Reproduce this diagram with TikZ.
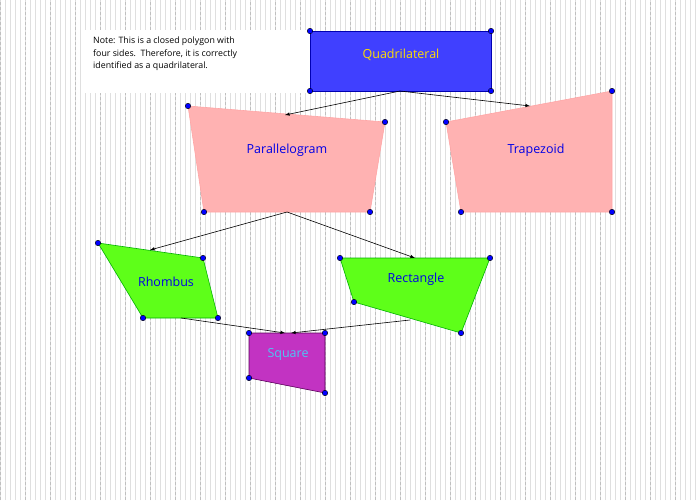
\documentclass[tikz,border=0pt]{standalone}
\usepackage{fontspec}
\setmainfont{Open Sans}
\begin{document}
\begin{tikzpicture}[x=1pt,y=-1pt,
  poly/.style={line width=0.6pt},
  pt/.style={circle,fill=blue,draw=black,line width=0.4pt,inner sep=0pt,minimum size=5.5pt},
  lbl/.style={font=\fontsize{12.5}{14}\selectfont},
  arr/.style={-latex,line width=0.6pt}]
\useasboundingbox (0,0) rectangle (700,500);
\fill[white] (0,0) rectangle (700,500);
\draw[gray!25,line width=0.3pt] (0,0) grid[step=5] (700,500);
\draw[gray!50,line width=0.4pt,dash pattern=on 3pt off 2pt] (0,0) grid[step=25] (700,500);
\fill[white] (82,30) rectangle (306,93);
\node[anchor=north west,align=left,inner sep=0pt,font=\fontsize{8.8}{12.5}\selectfont] (note) at (93,37) {Note: This is a closed polygon with\\four sides.\ \ Therefore, it is correctly\\identified as a quadrilateral.};
% polygons
\filldraw[poly,fill=blue!75,draw=blue!70!black] (310,31)--(491,31)--(491,91)--(310,91)--cycle;
\filldraw[poly,fill=red!30,draw=red!35] (188,106)--(385,122)--(370,212)--(204,212)--cycle;
\filldraw[poly,fill=red!30,draw=red!35] (446,122)--(612,91)--(612,212)--(461,212)--cycle;
\filldraw[poly,fill=green!60!lime!90,draw=green!70!black] (98,243)--(203,258)--(218,318)--(143,318)--cycle;
\filldraw[poly,fill=green!60!lime!90,draw=green!70!black] (340,258)--(490,258)--(461,333)--(354,302)--cycle;
\filldraw[poly,fill=violet!60!magenta!80,draw=violet!70!black] (249,333)--(325,333)--(325,393)--(249,378)--cycle;
% labels
\node[lbl,text=yellow!80!orange] (q) at (401,55) {Quadrilateral};
\node[lbl,text=blue!90!black] (p) at (287,150) {Parallelogram};
\node[lbl,text=blue!90!black] (t) at (536,150) {Trapezoid};
\node[lbl,text=blue!90!black] (rh) at (166,282) {Rhombus};
\node[lbl,text=blue!90!black] (re) at (416,279) {Rectangle};
\node[lbl,text=cyan!70!white] (s) at (288,354) {Square};
% connector ends
\coordinate (qb) at (400,91);
\coordinate (pt1) at (285,115);
\coordinate (tt) at (530,106);
\coordinate (pb) at (287,212);
\coordinate (rht) at (150,250);
\coordinate (ret) at (415,258);
\coordinate (rhb) at (181,318);
\coordinate (reb) at (410,320);
\coordinate (s1) at (285,333);
\coordinate (s2) at (291,333);
\draw[arr] (qb)--(pt1);
\draw[arr] (qb)--(tt);
\draw[arr] (pb)--(rht);
\draw[arr] (pb)--(ret);
\draw[arr] (rhb)--(s1);
\draw[arr] (reb)--(s2);
% vertices
\foreach \p in {(310,31),(491,31),(491,91),(310,91),
 (188,106),(385,122),(370,212),(204,212),
 (446,122),(612,91),(612,212),(461,212),
 (98,243),(203,258),(218,318),(143,318),
 (340,258),(490,258),(461,333),(354,302),
 (249,333),(325,333),(325,393),(249,378)}
 \node[pt] at \p {};
\end{tikzpicture}
\end{document}
